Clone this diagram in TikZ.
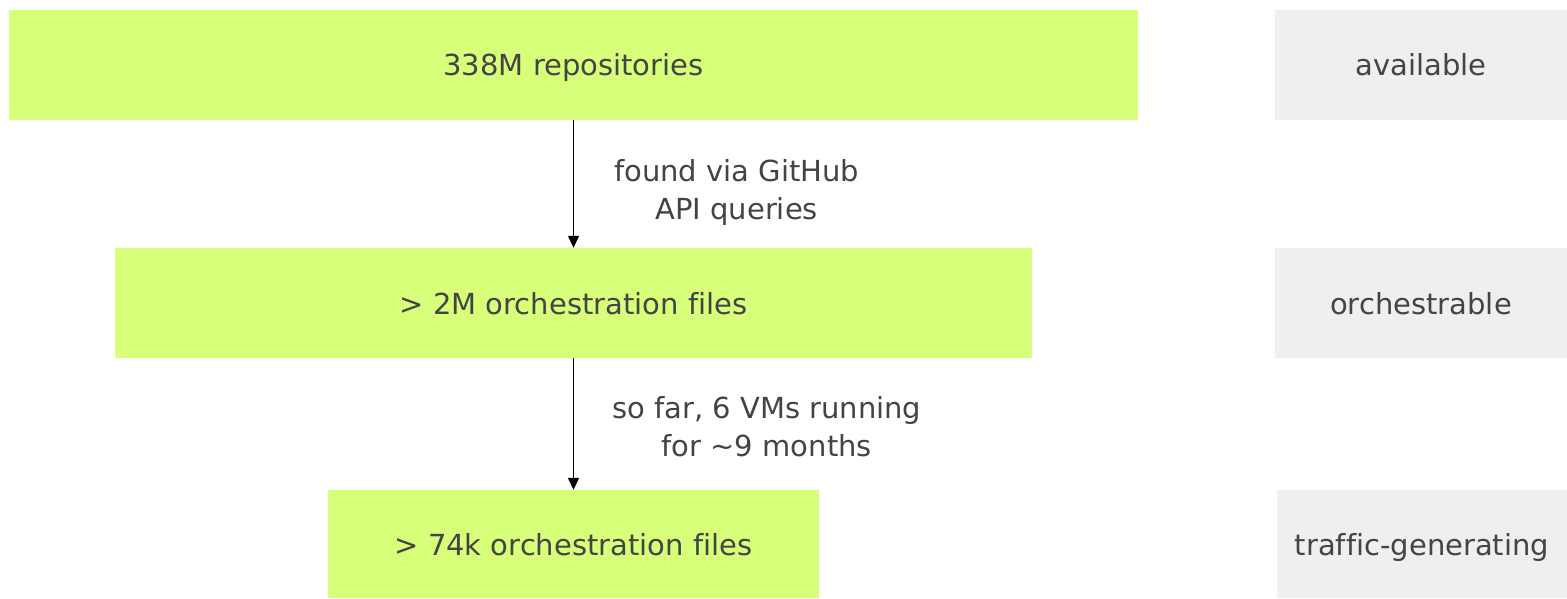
\documentclass[tikz,border=0pt]{standalone}
\usepackage{fontspec}
\setmainfont{DejaVu Sans}[Ligatures=NoCommon]
\usetikzlibrary{positioning,arrows.meta}
\definecolor{stagegreen}{HTML}{D8FF7A}
\definecolor{taggray}{HTML}{EFEFEF}
\definecolor{inkgray}{HTML}{444444}

\begin{document}
\begin{tikzpicture}[x=1pt,y=1pt,on grid,auto,
    font=\fontsize{29}{38}\selectfont,text=inkgray,
    >={Triangle[length=12pt,width=11pt]},
    stage/.style={fill=stagegreen,minimum height=110pt,inner sep=0pt,text height=25pt,text depth=3pt},
    tag/.style={fill=taggray,minimum width=292pt,minimum height=110pt,inner sep=0pt,text height=25pt,text depth=3pt},
    note/.style={align=center,inner sep=0pt}]
  \useasboundingbox (0,0) rectangle (1567,-599);

  % funnel stages
  \node[stage,minimum width=1129pt] (repos) at (573.5,-65) {338M repositories};
  \node[stage,minimum width=917pt] (orch) [below=238pt of repos] {> 2M orchestration files};
  \node[stage,minimum width=491pt,minimum height=108pt] (traffic) [below=241pt of orch] {> 74k orchestration files};

  % stage names
  \node[tag] (t_avail) [right=847.5pt of repos] {available};
  \node[tag] (t_orch) [right=847.5pt of orch] {orchestrable};
  \node[tag,minimum width=290pt,minimum height=108pt] (t_traffic) [right=848.5pt of traffic] {traffic-generating};

  \path[->,draw=black,line width=1.3pt]
    (repos) edge node[note,right=40pt,yshift=-8pt] {found via GitHub\\API queries} (orch)
    (orch) edge node[note,right=38pt,yshift=-3pt] {so far, 6 VMs running\\for \textasciitilde9 months} (traffic);
\end{tikzpicture}
\end{document}
